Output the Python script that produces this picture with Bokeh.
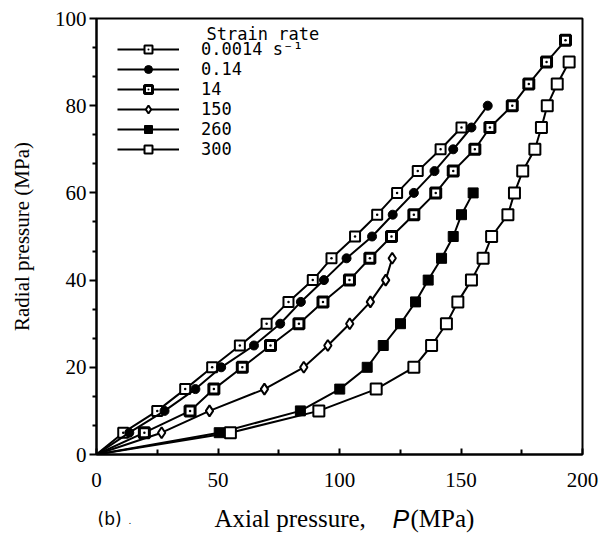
from bokeh.plotting import figure
from bokeh.models import Legend, LegendItem, Label, FixedTicker, Range1d
from bokeh.layouts import column
from bokeh.embed import file_html
from bokeh.resources import INLINE

# ---- data ----
legend_title = "Strain rate"
series_labels = ["0.0014 s\u207b\u00b9", "0.14", "14", "150", "260", "300"]
x_title_parts = ["Axial pressure,", "P", "(MPa)"]
y_title = "Radial pressure (MPa)"
panel_tag = "(b)"

x_0014 = [0, 11, 25, 36.5, 47.6, 59, 70, 79, 89, 96.7, 106.4, 115.5, 123.7, 132.2, 141.6, 150.2]
y_0014 = [0, 5, 10, 15, 20, 25, 30, 35, 40, 45, 50, 55, 60, 65, 70, 75]

x_014 = [0, 13.5, 28, 40.7, 51.3, 64.8, 75.6, 84.1, 93.6, 102.9, 113.4, 121.9, 130.6, 139.1, 146.8, 154.3, 161]
y_014 = [0, 5, 10, 15, 20, 25, 30, 35, 40, 45, 50, 55, 60, 65, 70, 75, 80]

x_14 = [0, 19.7, 38.5, 48.3, 60, 71.6, 83.3, 93.2, 104.1, 112.5, 121.4, 130.6, 139.6, 146.8, 155.7, 161.9, 171.1, 177.9, 185.2, 193]
y_14 = [0, 5, 10, 15, 20, 25, 30, 35, 40, 45, 50, 55, 60, 65, 70, 75, 80, 85, 90, 95]

x_150 = [0, 26.8, 46.5, 69.1, 85.3, 95.2, 104.2, 112.7, 119, 121.7]
y_150 = [0, 5, 10, 15, 20, 25, 30, 35, 40, 45]

x_260 = [0, 50.5, 83.9, 100.1, 111.4, 118, 125.1, 131.3, 136.5, 142, 146.8, 150.2, 155]
y_260 = [0, 5, 10, 15, 20, 25, 30, 35, 40, 45, 50, 55, 60]

x_300 = [0, 55.1, 91.5, 115.1, 130.6, 137.9, 144, 148.7, 154.3, 159.1, 162.6, 169.3, 172, 175.4, 180.4, 183.1, 185.5, 189.6, 194.5]
y_300 = [0, 5, 10, 15, 20, 25, 30, 35, 40, 45, 50, 55, 60, 65, 70, 75, 80, 85, 90]

x_ticks = [0, 50, 100, 150, 200]
y_ticks = [0, 20, 40, 60, 80, 100]

series = [
    (x_0014, y_0014, dict(marker="square_dot", size=10, fill_color="white", line_width=2)),
    (x_014, y_014, dict(marker="circle", size=9, fill_color="black", line_width=1)),
    (x_14, y_14, dict(marker="square_dot", size=10, fill_color="white", line_width=3)),
    (x_150, y_150, dict(marker="diamond", size=11, fill_color="white", line_width=2)),
    (x_260, y_260, dict(marker="square", size=10, fill_color="black", line_width=1)),
    (x_300, y_300, dict(marker="square", size=11, fill_color="white", line_width=2)),
]

serif = "Liberation Serif"

# ---------------- main plot ----------------
p = figure(width=600, height=501, output_backend="svg", toolbar_location=None,
           x_range=Range1d(0, 200), y_range=Range1d(0, 100),
           min_border_left=96, min_border_right=18, min_border_top=18, min_border_bottom=47)

p.xgrid.visible = False
p.ygrid.visible = False
p.outline_line_color = "black"
p.outline_line_width = 2
p.background_fill_color = "white"
p.border_fill_color = "white"

items = []
for (xs, ys, st), lab in zip(series, series_labels):
    lr = p.line(xs, ys, line_color="black", line_width=2)
    sr = p.scatter(xs[1:], ys[1:], marker=st["marker"], size=st["size"],
                   fill_color=st["fill_color"], line_color="black", line_width=st["line_width"])
    items.append(LegendItem(label=lab, renderers=[lr, sr]))

legend = Legend(items=items, location="top_left", margin=1, padding=20,
                border_line_alpha=0, background_fill_alpha=0,
                glyph_width=62, glyph_height=20, label_height=20, spacing=0,
                label_standoff=22,
                label_text_font="DejaVu Sans Mono", label_text_font_size="17px",
                label_text_color="black")
p.add_layout(legend, "center")

p.add_layout(Label(x=45.3, y=96.5, text=legend_title, text_font="DejaVu Sans Mono",
                   text_font_size="17px", text_align="left", text_baseline="middle",
                   text_color="black"))

p.xaxis.ticker = FixedTicker(ticks=x_ticks, minor_ticks=[25, 75, 125, 175])
p.yaxis.ticker = FixedTicker(ticks=y_ticks, minor_ticks=[v + d for v in y_ticks[:-1] for d in (20/3, 40/3)])

for ax in (p.xaxis[0], p.yaxis[0]):
    ax.axis_line_width = 2
    ax.axis_line_color = "black"
    ax.major_tick_line_color = "black"
    ax.minor_tick_line_color = "black"
    ax.major_tick_line_width = 2
    ax.minor_tick_line_width = 2
    ax.major_label_text_font = serif
    ax.major_label_text_font_size = "21px"
    ax.major_label_text_color = "black"
    ax.axis_label_text_font = serif
    ax.axis_label_text_font_size = "21px"
    ax.axis_label_text_font_style = "normal"
    ax.axis_label_text_color = "black"

p.xaxis.major_tick_in = 6
p.xaxis.major_tick_out = 0
p.xaxis.minor_tick_in = 5
p.xaxis.minor_tick_out = 0
p.xaxis.major_label_standoff = 18

p.yaxis.major_tick_in = 0
p.yaxis.major_tick_out = 7
p.yaxis.minor_tick_in = 0
p.yaxis.minor_tick_out = 4
p.yaxis.major_label_standoff = 3
p.yaxis.axis_label = y_title
p.yaxis.axis_label_standoff = 18

# ---------------- caption strip (x-axis title + panel tag) ----------------
# its frame lines up with the main frame (page x 96..582), so the range is in page pixels
cap = figure(width=600, height=35, output_backend="svg", toolbar_location=None,
             x_range=Range1d(96, 582), y_range=Range1d(0, 35),
             x_axis_location=None, y_axis_location=None,
             min_border_left=96, min_border_right=18, min_border_top=0, min_border_bottom=0)
cap.xgrid.visible = False
cap.ygrid.visible = False
cap.outline_line_color = None
cap.background_fill_color = "white"
cap.border_fill_color = "white"

cap.add_layout(Label(x=97, y=18, text=panel_tag, text_font="DejaVu Sans",
                     text_font_size="17px", text_align="left", text_baseline="middle",
                     text_color="black"))
cap.add_layout(Label(x=128, y=16, text=".", text_font="DejaVu Sans",
                     text_font_size="9px", text_align="left", text_baseline="middle",
                     text_color="black"))
caption_x = [214, 392, 410]
caption_fonts = [serif, "Liberation Sans", serif]
caption_styles = ["normal", "italic", "normal"]
for xp, t, f, s in zip(caption_x, x_title_parts, caption_fonts, caption_styles):
    cap.add_layout(Label(x=xp, y=18, text=t, text_font=f, text_font_style=s,
                         text_font_size="25px", text_align="left", text_baseline="middle",
                         text_color="black"))

layout = column(p, cap, spacing=0)
open("out.html", "w").write(file_html(layout, INLINE))
